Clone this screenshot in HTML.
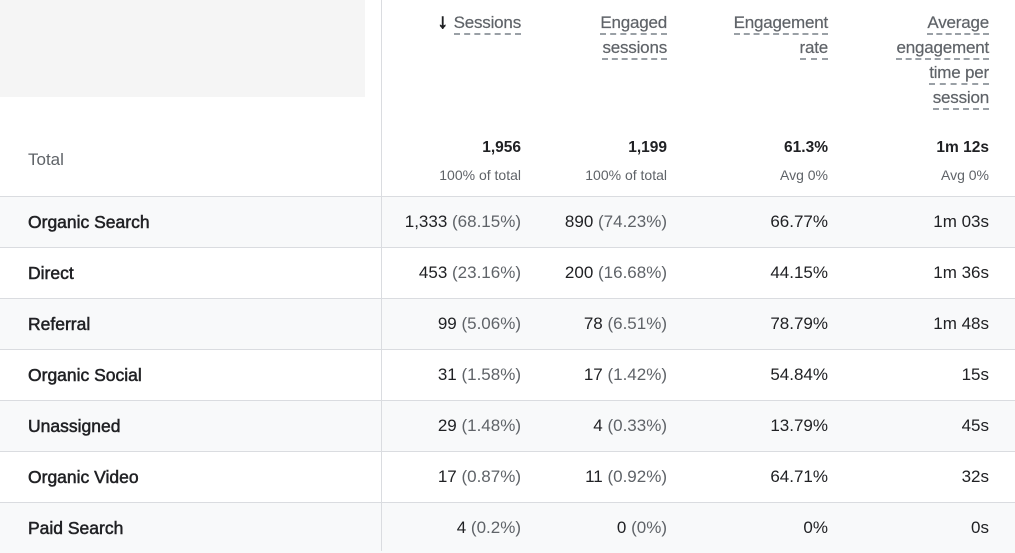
<!DOCTYPE html>
<html><head><meta charset="utf-8"><style>
body{margin:0;width:1015px;height:551px;background:#fff;font-family:"Liberation Sans",Arial,sans-serif;position:relative;overflow:hidden;color:#202124}
.a{position:absolute}
.box{left:0;top:0;width:365px;height:97px;background:#f5f5f5}
.vl{left:381px;top:0;width:1px;height:551px;background:#dadce0}
.h{position:absolute;text-align:right;color:#5f6368;font-size:17px;line-height:25px;letter-spacing:-0.2px;-webkit-text-stroke:0.2px #5f6368}
.h span{border-bottom:2px dashed #9aa0a6;padding-bottom:1px}
.row{position:absolute;left:0;width:1015px;height:50px;border-top:1px solid #dadce0}
.g{background:#f8f9fa}
.lab{position:absolute;left:28px;font-size:17.5px;line-height:50px;color:#202124;-webkit-text-stroke:0.5px #202124}
.c{position:absolute;text-align:right;font-size:17px;line-height:50px;color:#202124}
.c i{font-style:normal;color:#5f6368}
.t{position:absolute;text-align:right;font-size:15.5px;font-weight:bold;color:#202124}
.s{position:absolute;text-align:right;font-size:14px;color:#5f6368}
</style></head><body>
<div class="a box"></div>
<div class="h" style="right:494px;top:10px;width:200px;color:#5f6368"><b style="color:#202124;font-size:20px;-webkit-text-stroke:1px #202124;margin-right:6px">&#8595;</b><span>Sessions</span></div>
<div class="h" style="right:348px;top:10px;width:150px"><span>Engaged</span><br><span>sessions</span></div>
<div class="h" style="right:187px;top:10px;width:150px"><span>Engagement</span><br><span>rate</span></div>
<div class="h" style="right:26px;top:10px;width:150px"><span>Average</span><br><span>engagement</span><br><span>time per</span><br><span>session</span></div>
<div class="a" style="left:28px;top:150px;font-size:17px;color:#5f6368">Total</div>
<div class="t" style="right:494px;top:139px">1,956</div>
<div class="t" style="right:348px;top:139px">1,199</div>
<div class="t" style="right:187px;top:139px">61.3%</div>
<div class="t" style="right:26px;top:139px">1m 12s</div>
<div class="s" style="right:494px;top:167px">100% of total</div>
<div class="s" style="right:348px;top:167px">100% of total</div>
<div class="s" style="right:187px;top:167px">Avg 0%</div>
<div class="s" style="right:26px;top:167px">Avg 0%</div>

<div class="row g" style="top:196px"></div>
<div class="row" style="top:247px"></div>
<div class="row g" style="top:298px"></div>
<div class="row" style="top:349px"></div>
<div class="row g" style="top:400px"></div>
<div class="row" style="top:451px"></div>
<div class="row g" style="top:502px"></div>
<div class="a vl"></div>

<div class="lab" style="top:197px">Organic Search</div>
<div class="c" style="right:494px;top:197px">1,333 <i>(68.15%)</i></div>
<div class="c" style="right:348px;top:197px">890 <i>(74.23%)</i></div>
<div class="c" style="right:187px;top:197px">66.77%</div>
<div class="c" style="right:26px;top:197px">1m 03s</div>

<div class="lab" style="top:248px">Direct</div>
<div class="c" style="right:494px;top:248px">453 <i>(23.16%)</i></div>
<div class="c" style="right:348px;top:248px">200 <i>(16.68%)</i></div>
<div class="c" style="right:187px;top:248px">44.15%</div>
<div class="c" style="right:26px;top:248px">1m 36s</div>

<div class="lab" style="top:299px">Referral</div>
<div class="c" style="right:494px;top:299px">99 <i>(5.06%)</i></div>
<div class="c" style="right:348px;top:299px">78 <i>(6.51%)</i></div>
<div class="c" style="right:187px;top:299px">78.79%</div>
<div class="c" style="right:26px;top:299px">1m 48s</div>

<div class="lab" style="top:350px">Organic Social</div>
<div class="c" style="right:494px;top:350px">31 <i>(1.58%)</i></div>
<div class="c" style="right:348px;top:350px">17 <i>(1.42%)</i></div>
<div class="c" style="right:187px;top:350px">54.84%</div>
<div class="c" style="right:26px;top:350px">15s</div>

<div class="lab" style="top:401px">Unassigned</div>
<div class="c" style="right:494px;top:401px">29 <i>(1.48%)</i></div>
<div class="c" style="right:348px;top:401px">4 <i>(0.33%)</i></div>
<div class="c" style="right:187px;top:401px">13.79%</div>
<div class="c" style="right:26px;top:401px">45s</div>

<div class="lab" style="top:452px">Organic Video</div>
<div class="c" style="right:494px;top:452px">17 <i>(0.87%)</i></div>
<div class="c" style="right:348px;top:452px">11 <i>(0.92%)</i></div>
<div class="c" style="right:187px;top:452px">64.71%</div>
<div class="c" style="right:26px;top:452px">32s</div>

<div class="lab" style="top:503px">Paid Search</div>
<div class="c" style="right:494px;top:503px">4 <i>(0.2%)</i></div>
<div class="c" style="right:348px;top:503px">0 <i>(0%)</i></div>
<div class="c" style="right:187px;top:503px">0%</div>
<div class="c" style="right:26px;top:503px">0s</div>
</body></html>
